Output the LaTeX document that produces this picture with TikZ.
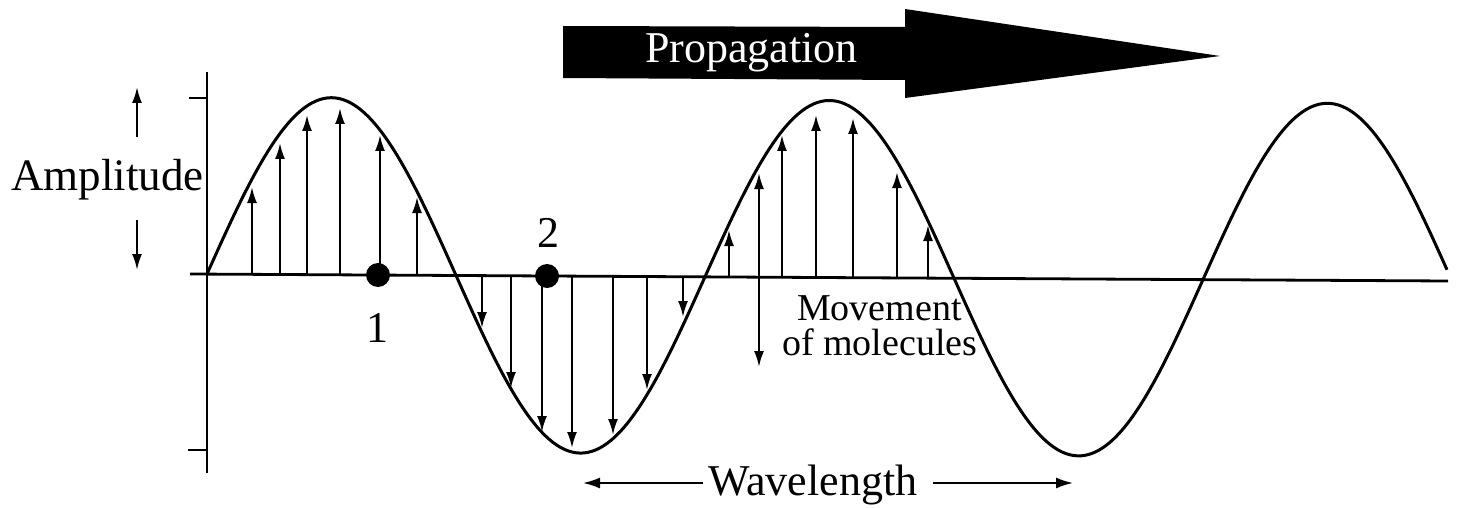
\documentclass[tikz,border=0pt]{standalone}
\usepackage{fontspec}
\setmainfont{Liberation Serif}
\usetikzlibrary{arrows.meta}
\tikzset{
  wave/.style={line width=3pt, line join=round},
  axisline/.style={line width=2.8pt},
  mol/.style={line width=2.2pt, -{Latex[length=16pt,width=10pt]}},
  molboth/.style={line width=2.2pt, {Latex[length=16pt,width=10pt]}-{Latex[length=16pt,width=10pt]}},
  wlarrow/.style={line width=2pt, -{Latex[length=17pt,width=11pt]}},
  lbl/.style={font=\fontsize{44}{48}\selectfont, inner sep=0pt},
  smalllbl/.style={font=\fontsize{38}{42}\selectfont, inner sep=0pt, align=left},
  dot/.style={circle, fill=black, minimum size=24pt, inner sep=0pt},
}
\begin{document}
\begin{tikzpicture}[x=1pt,y=-1pt]
\useasboundingbox (0,0) rectangle (1459,508);
% axes
\coordinate (axL) at (190,274);
\coordinate (axR) at (1448,281);
\coordinate (vT) at (207,72);
\coordinate (vB) at (207,473);
\coordinate (tkT1) at (189,98);
\coordinate (tkT2) at (207,98);
\coordinate (tkB1) at (188,450);
\coordinate (tkB2) at (207,450);
\draw[axisline] (axL) -- (axR);
\draw[axisline] (vT) -- (vB);
\draw[axisline] (tkT1) -- (tkT2);
\draw[axisline] (tkB1) -- (tkB2);
% wave
\draw[wave] plot[domain=207:1447, samples=320, smooth] (\x,{274+0.0056*(\x-207)-177*sin(0.722892*(\x-207))});
% molecule arrows
\foreach \xx/\tt in {252/187, 280/143, 307/115, 340/108, 380/135, 417/197,
                     482/328, 511/388, 542/432, 572/448, 613/435, 647/390, 683/317,
                     729/230, 782/135, 816/115, 853/118, 897/172, 928/225}
  \draw[mol] (\xx,{274+0.0056*(\xx-207)}) -- (\xx,\tt);
\coordinate (mvT) at (759,173);
\coordinate (mvB) at (759,367);
\draw[molboth] (mvB) -- (mvT);
% points
\node[dot] (d1) at (378,275) {};
\node[dot] (d2) at (547,276) {};
\node[lbl, anchor=base] (n1) at (377,342) {1};
\node[lbl, anchor=base] (n2) at (548,247) {2};
% amplitude
\node[lbl, font=\fontsize{45}{48}\selectfont, anchor=base east] (amp) at (204,190) {Amplitude};
\coordinate (aU0) at (137,137);
\coordinate (aU1) at (137,87);
\coordinate (aD0) at (137,220);
\coordinate (aD1) at (137,270);
\draw[mol] (aU0) -- (aU1);
\draw[mol] (aD0) -- (aD1);
% propagation arrow
\fill[black] (563,26) -- (905,27) -- (905,9) -- (1220,56) -- (905,98) -- (905,80) -- (563,78) -- cycle;
\node[lbl, text=white, anchor=base west] (prop) at (645,63) {Propagation};
% movement label
\node[smalllbl, anchor=base west] (mv1) at (797,320) {Movement};
\node[smalllbl, anchor=base west] (mv2) at (782,355) {of molecules};
% wavelength
\node[lbl, anchor=base west] (wl) at (708,495) {Wavelength};
\coordinate (wlLs) at (703,483);
\coordinate (wlLe) at (583,483);
\coordinate (wlRs) at (933,483);
\coordinate (wlRe) at (1073,483);
\draw[wlarrow] (wlLs) -- (wlLe);
\draw[wlarrow] (wlRs) -- (wlRe);
\end{tikzpicture}
\end{document}
